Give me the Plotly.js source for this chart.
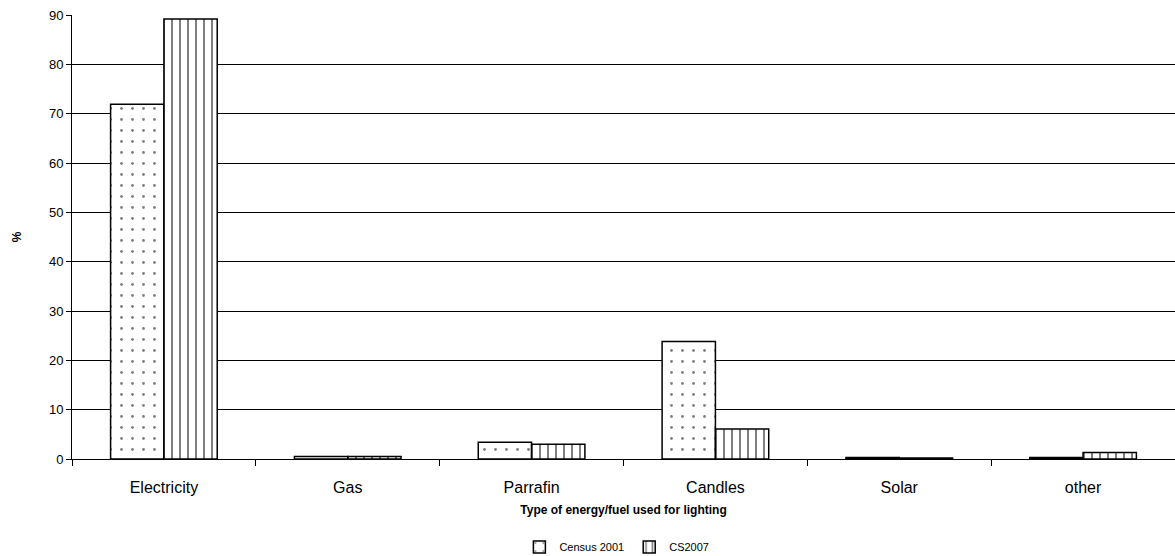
<!DOCTYPE html>
<html>
<head>
<meta charset="utf-8">
<script src="https://cdn.plot.ly/plotly-3.0.1.min.js"></script>
<style>html,body{margin:0;padding:0;background:#fff;}#chart{width:1175px;height:556px;}</style>
</head>
<body>
<div id="chart"></div>
<script>
const categories = ["Electricity", "Gas", "Parrafin", "Candles", "Solar", "other"];
const census2001 = [71.9, 0.5, 3.4, 23.8, 0.3, 0.3];
const cs2007 = [89.2, 0.5, 3.0, 6.1, 0.2, 1.3];
const seriesNames = ["Census 2001", "CS2007"];
const yTicks = [0, 10, 20, 30, 40, 50, 60, 70, 80, 90];

const fontFamily = "Liberation Sans, Arial, sans-serif";

const traces = [
  {
    type: "bar", name: seriesNames[0], x: categories, y: census2001,
    marker: {
      color: "#ffffff",
      line: {color: "#000000", width: 1.5},
      pattern: {shape: ".", fgcolor: "#000000", bgcolor: "#ffffff", size: 11, solidity: 0.05, fillmode: "overlay"}
    },
    hoverinfo: "x+y"
  },
  {
    type: "bar", name: seriesNames[1], x: categories, y: cs2007,
    marker: {
      color: "#ffffff",
      line: {color: "#000000", width: 1.5},
      pattern: {shape: "|", fgcolor: "#000000", bgcolor: "#ffffff", size: 8, solidity: 0.25, fillmode: "overlay"}
    },
    hoverinfo: "x+y"
  }
];

const layout = {
  width: 1175, height: 556,
  margin: {l: 72, r: 0, t: 15, b: 97, autoexpand: false},
  paper_bgcolor: "#ffffff", plot_bgcolor: "#ffffff",
  font: {family: fontFamily, color: "#000000"},
  barmode: "group", bargap: 0.42, bargroupgap: 0,
  showlegend: true,
  legend: {
    orientation: "h", xref: "container", yref: "container",
    x: 0.525, xanchor: "center", y: 0.016, yanchor: "middle",
    font: {size: 11, family: fontFamily}, itemwidth: 30, traceorder: "normal"
  },
  xaxis: {
    type: "category",
    showline: true, linecolor: "#000000", linewidth: 1,
    ticks: "outside", tickson: "boundaries", ticklen: 6, tickcolor: "#000000",
    ticklabelstandoff: 14,
    tickfont: {size: 16, family: fontFamily},
    showgrid: false, zeroline: false, automargin: false,
    title: {text: "<b>Type of energy/fuel used for lighting</b>", font: {size: 12, family: fontFamily}, standoff: 10}
  },
  yaxis: {
    range: [0, 90], tickvals: yTicks, ticktext: yTicks.map(String),
    showline: true, linecolor: "#000000", linewidth: 1,
    ticks: "outside", ticklen: 5, tickcolor: "#000000",
    tickfont: {size: 13, family: fontFamily},
    showgrid: true, gridcolor: "#000000", gridwidth: 1,
    zeroline: false, automargin: false,
    title: {text: "<b>%</b>", font: {size: 12, family: fontFamily}, standoff: 24}
  }
};

Plotly.newPlot("chart", traces, layout, {displayModeBar: false, staticPlot: true});
</script>
</body>
</html>
